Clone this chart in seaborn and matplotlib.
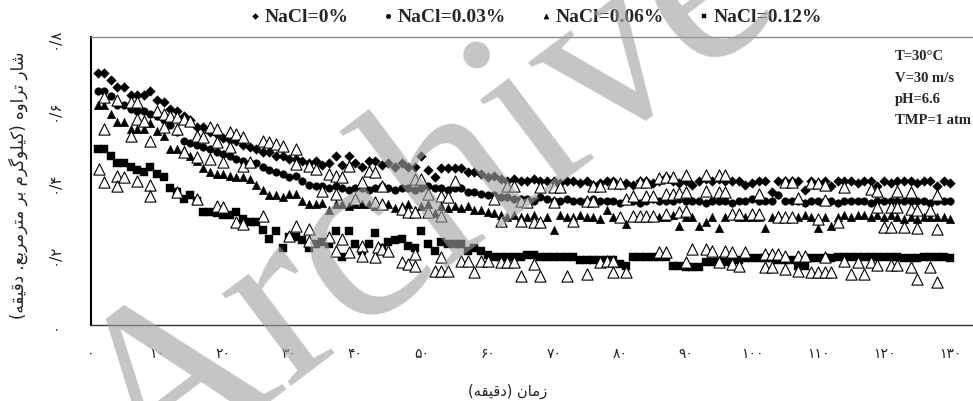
import matplotlib
matplotlib.use("Agg")
import matplotlib.pyplot as plt
import seaborn as sns
from matplotlib.font_manager import FontProperties

# داده‌ها (خوانده شده از تصویر)
minutes = list(range(1, 131))

nacl_0 = [0.70, 0.70, 0.68, 0.66, 0.66, 0.64, 0.64, 0.64, 0.65, 0.625,
          0.62, 0.60, 0.595, 0.58, 0.57, 0.55, 0.55, 0.535, 0.53, 0.52,
          0.515, 0.51, 0.50, 0.495, 0.49, 0.48, 0.48, 0.47, 0.47, 0.46,
          0.46, 0.455, 0.45, 0.455, 0.445, 0.45, 0.47, 0.445, 0.47, 0.45,
          0.44, 0.455, 0.455, 0.445, 0.45, 0.44, 0.45, 0.44, 0.44, 0.47,
          0.43, 0.41, 0.435, 0.435, 0.435, 0.435, 0.425, 0.425, 0.42, 0.41,
          0.415, 0.405, 0.40, 0.405, 0.40, 0.40, 0.405, 0.40, 0.40, 0.40,
          0.395, 0.40, 0.40, 0.395, 0.40, 0.39, 0.395, 0.40, 0.40, 0.39,
          0.395, 0.39, 0.40, 0.40, 0.395, 0.40, 0.41, 0.40, 0.395, 0.40,
          0.39, 0.40, 0.405, 0.40, 0.405, 0.40, 0.40, 0.40, 0.39, 0.395,
          0.40, 0.40, 0.37, 0.40, 0.40, 0.40, 0.40, 0.375, 0.40, 0.395,
          0.40, 0.385, 0.40, 0.40, 0.40, 0.395, 0.40, 0.40, 0.385, 0.40,
          0.395, 0.40, 0.40, 0.40, 0.395, 0.40, 0.40, 0.385, 0.40, 0.395]

nacl_003 = [0.65, 0.65, 0.635, 0.61, 0.61, 0.60, 0.595, 0.595, 0.585, 0.58,
            0.57, 0.555, 0.535, 0.51, 0.505, 0.50, 0.495, 0.49, 0.48, 0.475,
            0.47, 0.46, 0.455, 0.45, 0.45, 0.44, 0.43, 0.425, 0.42, 0.41,
            0.415, 0.40, 0.39, 0.385, 0.385, 0.38, 0.385, 0.38, 0.375, 0.38,
            0.38, 0.375, 0.38, 0.385, 0.38, 0.375, 0.38, 0.38, 0.375, 0.38,
            0.385, 0.38, 0.38, 0.375, 0.38, 0.38, 0.37, 0.37, 0.365, 0.36,
            0.36, 0.355, 0.355, 0.35, 0.35, 0.35, 0.345, 0.355, 0.35, 0.345,
            0.345, 0.35, 0.345, 0.345, 0.345, 0.35, 0.345, 0.345, 0.345, 0.34,
            0.345, 0.345, 0.34, 0.345, 0.35, 0.345, 0.345, 0.345, 0.35, 0.345,
            0.345, 0.345, 0.34, 0.345, 0.345, 0.345, 0.34, 0.345, 0.345, 0.35,
            0.345, 0.345, 0.345, 0.36, 0.345, 0.345, 0.345, 0.34, 0.345, 0.345,
            0.345, 0.345, 0.34, 0.345, 0.345, 0.345, 0.345, 0.34, 0.345, 0.345,
            0.345, 0.345, 0.345, 0.345, 0.345, 0.345, 0.34, 0.345, 0.345, 0.345]

nacl_006 = [0.61, 0.61, 0.585, 0.565, 0.565, 0.545, 0.545, 0.545, 0.56, 0.54,
            0.525, 0.49, 0.49, 0.485, 0.47, 0.455, 0.435, 0.425, 0.42, 0.42,
            0.415, 0.41, 0.41, 0.405, 0.39, 0.375, 0.36, 0.36, 0.355, 0.365,
            0.365, 0.345, 0.335, 0.335, 0.34, 0.32, 0.335, 0.335, 0.33, 0.335,
            0.335, 0.335, 0.33, 0.34, 0.335, 0.325, 0.33, 0.335, 0.32, 0.33,
            0.335, 0.31, 0.33, 0.325, 0.33, 0.325, 0.33, 0.32, 0.32, 0.315,
            0.31, 0.305, 0.30, 0.305, 0.30, 0.30, 0.305, 0.29, 0.30, 0.265,
            0.305, 0.30, 0.30, 0.305, 0.30, 0.30, 0.295, 0.32, 0.30, 0.30,
            0.28, 0.30, 0.30, 0.305, 0.30, 0.30, 0.30, 0.305, 0.275, 0.30,
            0.30, 0.275, 0.285, 0.30, 0.27, 0.30, 0.305, 0.30, 0.30, 0.30,
            0.30, 0.27, 0.30, 0.305, 0.30, 0.30, 0.30, 0.305, 0.30, 0.27,
            0.30, 0.275, 0.30, 0.305, 0.30, 0.305, 0.305, 0.30, 0.305, 0.30,
            0.305, 0.30, 0.295, 0.30, 0.295, 0.30, 0.30, 0.30, 0.30, 0.295]

nacl_012 = [0.49, 0.49, 0.47, 0.45, 0.45, 0.44, 0.43, 0.425, 0.44, 0.42,
            0.41, 0.38, 0.37, 0.35, 0.36, 0.345, 0.315, 0.315, 0.31, 0.305,
            0.305, 0.315, 0.295, 0.285, 0.285, 0.265, 0.24, 0.26, 0.215, 0.245,
            0.245, 0.235, 0.215, 0.225, 0.23, 0.225, 0.26, 0.19, 0.26, 0.225,
            0.205, 0.225, 0.255, 0.215, 0.23, 0.235, 0.24, 0.22, 0.215, 0.26,
            0.225, 0.205, 0.23, 0.225, 0.225, 0.225, 0.205, 0.215, 0.205, 0.195,
            0.19, 0.19, 0.19, 0.19, 0.19, 0.195, 0.195, 0.19, 0.19, 0.19,
            0.19, 0.19, 0.19, 0.18, 0.18, 0.18, 0.18, 0.18, 0.18, 0.17,
            0.165, 0.19, 0.19, 0.19, 0.19, 0.19, 0.19, 0.165, 0.165, 0.16,
            0.16, 0.16, 0.175, 0.175, 0.175, 0.175, 0.18, 0.18, 0.185, 0.185,
            0.185, 0.185, 0.185, 0.18, 0.18, 0.18, 0.165, 0.165, 0.185, 0.185,
            0.185, 0.185, 0.19, 0.19, 0.19, 0.19, 0.19, 0.19, 0.19, 0.19,
            0.19, 0.19, 0.185, 0.185, 0.185, 0.19, 0.19, 0.19, 0.19, 0.185]

# مثلث‌های توخالی (بدون راهنما)
hollow_x = [1.2, 2, 2, 2, 4, 4, 4, 5, 6, 6, 7, 7, 7, 8, 9, 9, 9, 10, 11, 11,
            12, 13, 13, 13, 14, 14, 15, 16, 16, 16, 17, 18, 18, 19, 19, 19, 20, 20, 21, 21,
            22, 22, 23, 23, 23, 24, 26, 26, 27, 28, 29, 30, 31, 31, 31,
            33, 33, 33, 34, 35, 36, 36, 37, 37, 37, 38, 38, 39, 39, 40, 41, 41, 41, 42, 43,
            43, 43, 43.5, 44, 44, 44, 45, 47, 47, 48, 48, 49, 49, 49, 49, 50, 51, 51, 52,
            53, 53, 53, 53, 54, 54, 55, 56, 57, 58, 59, 60, 61, 62, 62, 63, 63, 64, 64,
            65, 65, 65,
            66, 67, 67, 68, 68, 68, 70, 70, 71, 72, 73, 75, 75, 76, 76, 77, 77, 78, 79, 79,
            79, 80, 80, 81, 81, 82, 82, 83, 83, 84, 84, 84, 85, 85, 86, 86, 87, 87, 87, 87,
            88, 88, 89, 89, 90, 90, 90, 90, 91, 93, 93, 93, 94, 95, 95, 95, 96, 96, 96, 97,
            97, 97,
            98, 98, 99, 100, 101, 101, 102, 102, 103, 103, 104, 104, 105, 105, 105, 105,
            106, 106, 107, 107, 107, 108, 109, 109, 110, 110, 110, 111, 111, 111, 111, 112,
            113, 114, 114, 115, 116, 117, 118, 118, 119, 119, 119, 120, 121, 121, 121, 122,
            122, 122, 123, 124, 124, 124, 125, 125, 125, 127, 127, 128, 128, 128]
hollow_y = [0.433, 0.633, 0.545, 0.397, 0.625, 0.414, 0.386, 0.41, 0.62, 0.525,
            0.62, 0.572, 0.40, 0.567, 0.511, 0.39, 0.358, 0.595, 0.55, 0.585,
            0.58, 0.545, 0.578, 0.37, 0.572, 0.48, 0.567, 0.525, 0.467, 0.35,
            0.522, 0.55, 0.46, 0.545, 0.508, 0.33, 0.453, 0.328, 0.536, 0.494,
            0.53, 0.286, 0.522, 0.442, 0.28, 0.453, 0.511, 0.303, 0.508, 0.503,
            0.497, 0.247, 0.489, 0.447, 0.275,
            0.442, 0.267, 0.233, 0.433, 0.372, 0.42, 0.244, 0.414, 0.364, 0.206,
            0.41, 0.239, 0.442, 0.203, 0.35, 0.397, 0.22, 0.192, 0.428, 0.425,
            0.342, 0.189, 0.217, 0.386, 0.336, 0.211, 0.206, 0.322, 0.175, 0.314,
            0.169, 0.405, 0.314, 0.164, 0.197, 0.405, 0.314, 0.364, 0.15,
            0.303, 0.358, 0.15, 0.189, 0.355, 0.15, 0.40, 0.178, 0.178, 0.147,
            0.178, 0.178, 0.35, 0.289, 0.175, 0.386, 0.175, 0.386, 0.175,
            0.289, 0.344, 0.136,
            0.342, 0.286, 0.169, 0.383, 0.286, 0.136, 0.383, 0.342, 0.383, 0.136,
            0.289, 0.344, 0.142, 0.386, 0.344, 0.386, 0.175, 0.178, 0.394, 0.178,
            0.147, 0.394, 0.30, 0.35, 0.147, 0.358, 0.303, 0.397, 0.303, 0.397,
            0.358, 0.303, 0.358, 0.303, 0.408, 0.203, 0.411, 0.364, 0.308, 0.203,
            0.411, 0.364, 0.367, 0.314, 0.417, 0.369, 0.317, 0.175, 0.211, 0.417,
            0.372, 0.211, 0.206, 0.417, 0.369, 0.175, 0.417, 0.369, 0.206, 0.308,
            0.203, 0.169,
            0.308, 0.164, 0.203, 0.308, 0.364, 0.308, 0.197, 0.161, 0.197, 0.161,
            0.30, 0.197, 0.397, 0.30, 0.192, 0.156, 0.397, 0.30, 0.353, 0.192,
            0.15, 0.192, 0.394, 0.147, 0.394, 0.294, 0.147, 0.389, 0.347, 0.189,
            0.147, 0.147, 0.286, 0.383, 0.178, 0.142, 0.175, 0.142, 0.378, 0.175,
            0.372, 0.328, 0.167, 0.272, 0.328, 0.272, 0.167, 0.372, 0.328, 0.167,
            0.272, 0.369, 0.322, 0.161, 0.319, 0.269, 0.128, 0.319, 0.161, 0.361,
            0.267, 0.119]

x_ticks = [0, 10, 20, 30, 40, 50, 60, 70, 80, 90, 100, 110, 120, 130]
x_tick_labels = ['۰', '۱۰', '۲۰', '۳۰', '۴۰', '۵۰', '۶۰', '۷۰', '۸۰', '۹۰',
                 '۱۰۰', '۱۱۰', '۱۲۰', '۱۳۰']
y_ticks = [0, 0.2, 0.4, 0.6, 0.8]
y_tick_labels = ['۰', '۰/۲', '۰/۴', '۰/۶', '۰/۸']
legend_labels = ['NaCl=0%', 'NaCl=0.03%', 'NaCl=0.06%', 'NaCl=0.12%']
conditions = ['T=30°C', 'V=30 m/s', 'pH=6.6', 'TMP=1 atm']
x_label = 'زمان (دقیقه)'
y_label = 'شار تراوه (کیلوگرم بر مترمربع. دقیقه)'

# شکل‌دهی ساده حروف فارسی (matplotlib حروف را به هم وصل نمی‌کند)
FORMS = {
    'ا': ('\uFE8D', '\uFE8E', None, None),
    'ب': ('\uFE8F', '\uFE90', '\uFE91', '\uFE92'),
    'ت': ('\uFE95', '\uFE96', '\uFE97', '\uFE98'),
    'د': ('\uFEA9', '\uFEAA', None, None),
    'ر': ('\uFEAD', '\uFEAE', None, None),
    'ز': ('\uFEAF', '\uFEB0', None, None),
    'ش': ('\uFEB5', '\uFEB6', '\uFEB7', '\uFEB8'),
    'ع': ('\uFEC9', '\uFECA', '\uFECB', '\uFECC'),
    'ق': ('\uFED5', '\uFED6', '\uFED7', '\uFED8'),
    'ل': ('\uFEDD', '\uFEDE', '\uFEDF', '\uFEE0'),
    'م': ('\uFEE1', '\uFEE2', '\uFEE3', '\uFEE4'),
    'ن': ('\uFEE5', '\uFEE6', '\uFEE7', '\uFEE8'),
    'ه': ('\uFEE9', '\uFEEA', '\uFEEB', '\uFEEC'),
    'و': ('\uFEED', '\uFEEE', None, None),
    'ک': ('\uFB8E', '\uFB8F', '\uFB90', '\uFB91'),
    'گ': ('\uFB92', '\uFB93', '\uFB94', '\uFB95'),
    'ی': ('\uFBFC', '\uFBFD', '\uFBFE', '\uFBFF'),
}


def shape_fa(text):
    out = []
    for i, ch in enumerate(text):
        if ch not in FORMS:
            out.append(ch)
            continue
        prev = text[i - 1] if i > 0 else ''
        nxt = text[i + 1] if i + 1 < len(text) else ''
        join_prev = prev in FORMS and FORMS[prev][2] is not None
        join_next = FORMS[ch][2] is not None and nxt in FORMS
        iso, fin, ini, med = FORMS[ch]
        if join_prev and join_next:
            out.append(med)
        elif join_prev:
            out.append(fin)
        elif join_next:
            out.append(ini)
        else:
            out.append(iso)
    mirror = {'(': ')', ')': '('}
    return ''.join(mirror.get(c, c) for c in reversed(out))


sns.set_style('white')
plt.rcParams['font.family'] = ['DejaVu Sans']

fig = plt.figure(figsize=(9.73, 4.02), dpi=100)
ax = fig.add_axes([91 / 973, 1 - 326 / 402, (972 - 91) / 973, (326 - 38) / 402])

sns.scatterplot(x=minutes, y=nacl_0, marker='D', s=24, color='black',
                edgecolor='black', linewidth=0.3, ax=ax, label=legend_labels[0])
sns.scatterplot(x=minutes, y=nacl_003, marker='o', s=30, color='black',
                edgecolor='black', linewidth=0.3, ax=ax, label=legend_labels[1])
sns.scatterplot(x=minutes, y=nacl_006, marker='^', s=38, color='black',
                edgecolor='black', linewidth=0.3, ax=ax, label=legend_labels[2])
sns.scatterplot(x=minutes, y=nacl_012, marker='s', s=32, color='black',
                edgecolor='black', linewidth=0.3, ax=ax, label=legend_labels[3])
sns.scatterplot(x=hollow_x, y=hollow_y, marker='^', s=65, facecolor='white',
                edgecolor='black', linewidth=0.8, ax=ax)

ax.set_xlim(0, 133.3)
ax.set_ylim(0, 0.8)
ax.set_xticks(x_ticks)
ax.set_xticklabels(x_tick_labels)
ax.set_yticks(y_ticks)
ax.set_yticklabels(y_tick_labels, rotation=90, va='center')
ax.tick_params(axis='x', direction='out', length=4, width=1, pad=11,
               labelsize=10, colors='#222222')
ax.tick_params(axis='y', direction='out', length=4, width=1, pad=17,
               labelsize=11, colors='#222222')

ax.spines['right'].set_visible(False)
ax.spines['top'].set_color('#8a8a8a')
ax.spines['top'].set_linewidth(1)
ax.spines['left'].set_color('black')
ax.spines['left'].set_linewidth(1.5)
ax.spines['bottom'].set_color('#333333')
ax.spines['bottom'].set_linewidth(1)

ax.set_xlabel(shape_fa(x_label), fontsize=10.5, color='#222222')
ax.xaxis.set_label_coords((508 - 91) / 881, (326 - 384) / 288)
ax.set_ylabel(shape_fa(y_label), fontsize=12, color='#222222')
ax.yaxis.set_label_coords((28 - 91) / 881, (326 - 185) / 288)

legend_font = FontProperties(family='Liberation Serif', weight='bold', size=14)
ax.legend(loc='center left', bbox_to_anchor=(249 / 973, 1 - 17 / 402),
          bbox_transform=fig.transFigure, ncol=4, frameon=False,
          prop=legend_font, markerscale=0.6, handlelength=0.6,
          handletextpad=0.2, columnspacing=1.75, borderpad=0, borderaxespad=0)

for i, t in enumerate(conditions):
    fig.text(895 / 973, 1 - (57 + 21.3 * i) / 402, t, ha='left', va='center',
             fontfamily='Liberation Serif', fontweight='bold', fontsize=10.5)

# واترمارک
fig.text(428 / 973, 1 - 205 / 402, 'Archive', fontsize=180,
         fontfamily='Liberation Serif', color='#a1a1a1', alpha=0.62,
         rotation=37, ha='center', va='center', zorder=10)

fig.savefig('out.png', dpi=100)
